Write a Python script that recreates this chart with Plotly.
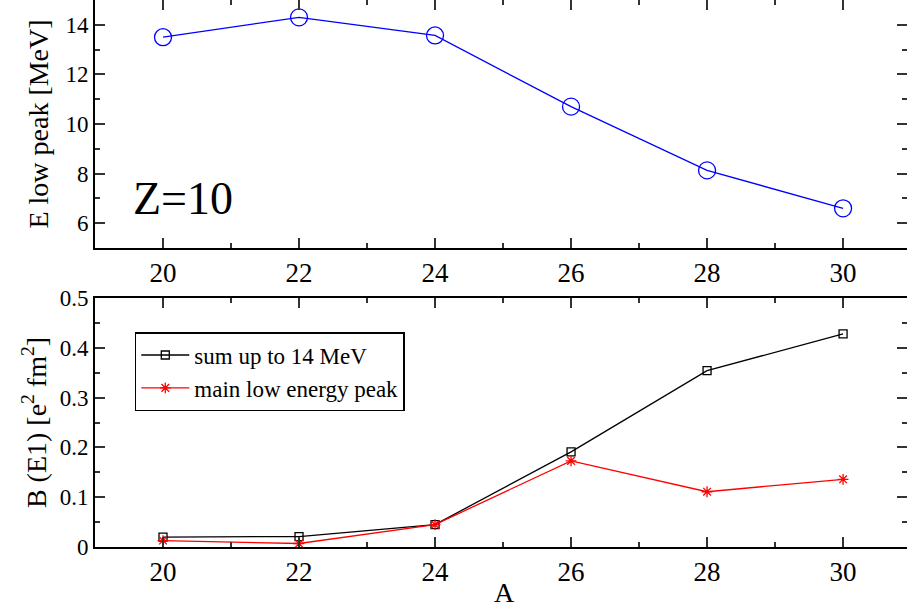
import plotly.graph_objects as go

A = [20, 22, 24, 26, 28, 30]
E_low_peak = [13.5, 14.3, 13.57, 10.7, 8.13, 6.6]
B_sum14 = [0.020, 0.021, 0.045, 0.191, 0.354, 0.428]
B_main_peak = [0.013, 0.007, 0.045, 0.173, 0.111, 0.136]

FONT = "Times New Roman, Liberation Serif, serif"

fig = go.Figure()
fig.add_trace(go.Scatter(x=A, y=E_low_peak, mode="lines+markers", xaxis="x", yaxis="y",
                         line=dict(color="#0000ff", width=1.3),
                         marker=dict(symbol="circle-open", size=17, color="#0000ff", line=dict(width=1.3)),
                         showlegend=False))
fig.add_trace(go.Scatter(x=A, y=B_sum14, mode="lines+markers", xaxis="x2", yaxis="y2",
                         name="sum up to 14 MeV",
                         line=dict(color="black", width=1.3),
                         marker=dict(symbol="square-open", size=8, color="black", line=dict(width=1.3))))
fig.add_trace(go.Scatter(x=A, y=B_main_peak, mode="lines+markers", xaxis="x2", yaxis="y2",
                         name="main low energy peak",
                         line=dict(color="#ff0000", width=1.3),
                         marker=dict(symbol="asterisk-open", size=9, color="#ff0000", line=dict(width=1.3, color="#ff0000"))))

def xax(anchor):
    return dict(anchor=anchor, domain=[0, 1], range=[19, 30.94], dtick=2, tick0=20,
                ticks="inside", ticklen=10, tickwidth=1.5, tickcolor="#333",
                showline=True, linewidth=2, linecolor="black", mirror="ticks",
                showgrid=False, zeroline=False, automargin=False,
                tickfont=dict(family=FONT, size=27, color="black"),
                minor=dict(dtick=1, tick0=19, ticks="inside", ticklen=5, tickwidth=1.5, tickcolor="#333", showgrid=False))

def yax(anchor, domain, rng, dtick, mdtick, title, standoff):
    return dict(anchor=anchor, domain=domain, range=rng, dtick=dtick,
                ticks="inside", ticklen=10, tickwidth=1.5, tickcolor="#333",
                showline=True, linewidth=2, linecolor="black", mirror="ticks",
                showgrid=False, zeroline=False, automargin=False,
                tickfont=dict(family=FONT, size=23, color="black"),
                title=dict(text=title, font=dict(family=FONT, size=28, color="black"), standoff=standoff),
                minor=dict(dtick=mdtick, ticks="inside", ticklen=5, tickwidth=1.5, tickcolor="#333", showgrid=False))

fig.update_layout(
    template="none",
    width=907, height=611,
    margin=dict(l=95, r=0, t=0, b=64),
    paper_bgcolor="white", plot_bgcolor="white",
    font=dict(family=FONT, color="black"),
    xaxis=xax("y"),
    yaxis=yax("x", [0.5466, 1], [5, 15], 2, 1, "E low peak [MeV]", 9),
    xaxis2=xax("y2"),
    yaxis2=yax("x2", [0, 0.4552], [0, 0.5], 0.1, 0.05, "B (E1) [e<sup>2</sup> fm<sup>2</sup>]", 5),
    legend=dict(x=0.049, y=0.393, xanchor="left", yanchor="top",
                bordercolor="black", borderwidth=1.5, bgcolor="white",
                font=dict(family=FONT, size=23, color="black"),
                itemwidth=48, tracegroupgap=0),
    annotations=[
        dict(x=20.3, y=7.0, xref="x", yref="y", text="Z=10", showarrow=False,
             font=dict(family=FONT, size=46, color="black")),
        dict(x=0.5037, y=-0.0823, xref="paper", yref="paper", text="A", showarrow=False,
             xanchor="center", yanchor="middle", font=dict(family=FONT, size=28, color="black")),
    ],
)

fig.write_html("out.html")
